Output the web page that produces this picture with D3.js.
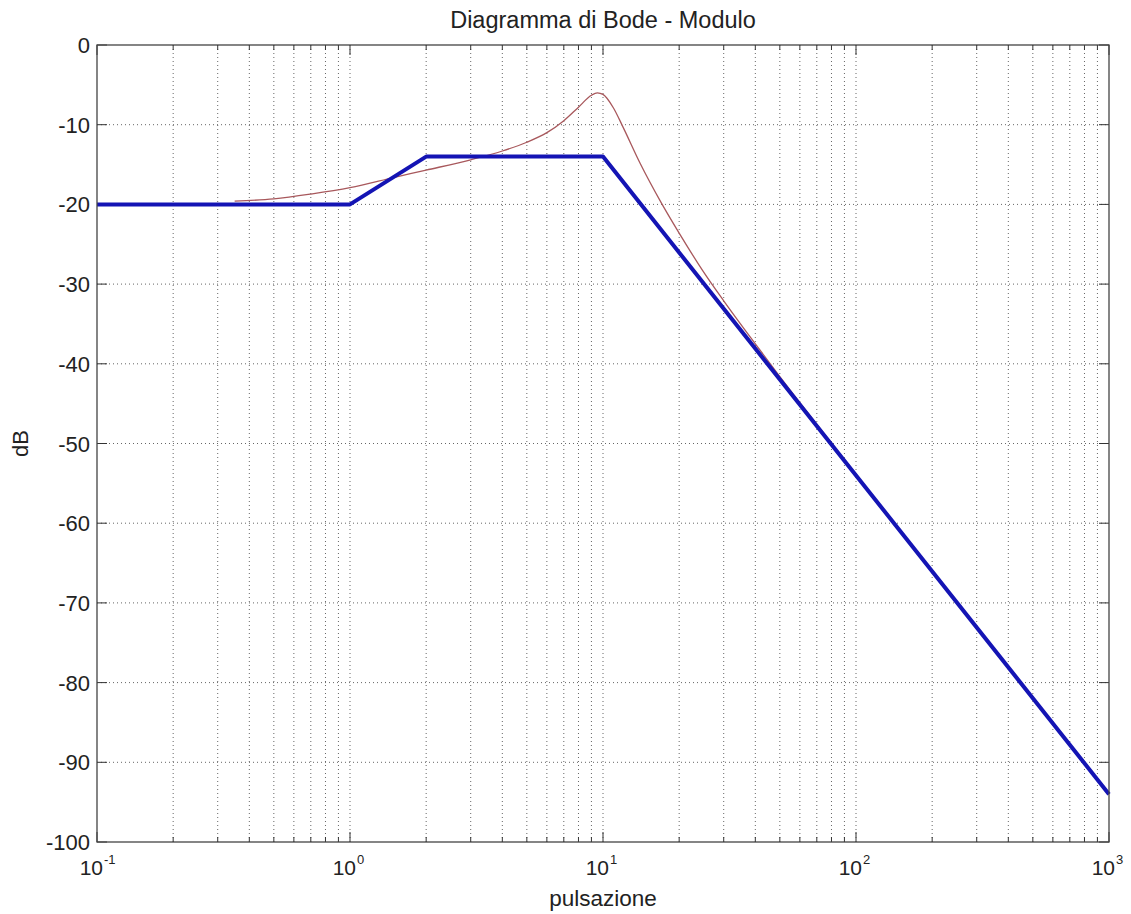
<!DOCTYPE html>
<html>
<head>
<meta charset="utf-8">
<script src="https://cdn.jsdelivr.net/npm/d3@7"></script>
<style>
  body { margin: 0; background: #fff; }
  text { font-family: "Liberation Sans", Arial, sans-serif; fill: #222; }
</style>
</head>
<body>
<svg id="chart" width="1131" height="914"></svg>
<script>
// asymptotic (straight line) diagram
const asymW = [0.1, 1, 2, 10, 1000];
const asymDb = [-20, -20, -14, -14, -94];

const realW = [0.35, 0.5, 0.7, 1, 1.5, 2, 3, 4, 5, 6, 7, 8, 9, 9.5, 10, 11, 12, 14, 17, 20, 25, 30, 40, 50, 70, 100, 200, 500, 1000];
const realDb = [-19.6, -19.3, -18.7, -17.9, -16.6, -15.7, -14.4, -13.3, -12.2, -11.0, -9.5, -7.8, -6.3, -6.0, -6.2, -7.9, -10.3, -14.8, -19.8, -23.6, -28.5, -32.1, -37.5, -41.6, -47.6, -53.9, -66.0, -81.9, -94.0];

const yTicks = [0, -10, -20, -30, -40, -50, -60, -70, -80, -90, -100];
const xDecades = [-1, 0, 1, 2, 3];

const margin = {left: 97, top: 45, right: 22, bottom: 72};
const width = 1131, height = 914;
const svg = d3.select("#chart");

const x = d3.scaleLog().domain([0.1, 1000]).range([margin.left, width - margin.right]);
const y = d3.scaleLinear().domain([-100, 0]).range([height - margin.bottom, margin.top]);

const x0 = x.range()[0], x1 = x.range()[1];
const y0 = y.range()[1], y1 = y.range()[0];

// minor + major positions on the log axis
const allTicks = [];
for (let e = -1; e < 3; e++) {
    for (let m = 1; m < 10; m++) allTicks.push(m * Math.pow(10, e));
}
allTicks.push(1000);

//GRID
svg.append("g").selectAll("line").data(allTicks.filter(d => d > 0.1 && d < 1000))
    .enter().append("line")
    .attr("x1", d => x(d)).attr("x2", d => x(d))
    .attr("y1", y0).attr("y2", y1)
    .attr("stroke", "#666")
    .attr("stroke-width", 1)
    .attr("stroke-dasharray", "1,3");

svg.append("g").selectAll("line").data(yTicks.filter(d => d > -100 && d < 0))
    .enter().append("line")
    .attr("x1", x0).attr("x2", x1)
    .attr("y1", d => y(d)).attr("y2", d => y(d))
    .attr("stroke", "#666")
    .attr("stroke-width", 1)
    .attr("stroke-dasharray", "1,3");

//TICKS (inside the box, all four sides)
const ticksG = svg.append("g").attr("stroke", "#333").attr("stroke-width", 1);
allTicks.forEach(d => {
    const len = xDecades.some(e => Math.abs(Math.pow(10, e) - d) < 1e-9) ? 10 : 5;
    ticksG.append("line").attr("x1", x(d)).attr("x2", x(d)).attr("y1", y1).attr("y2", y1 - len);
    ticksG.append("line").attr("x1", x(d)).attr("x2", x(d)).attr("y1", y0).attr("y2", y0 + len);
});
yTicks.forEach(d => {
    ticksG.append("line").attr("x1", x0).attr("x2", x0 + 10).attr("y1", y(d)).attr("y2", y(d));
    ticksG.append("line").attr("x1", x1).attr("x2", x1 - 10).attr("y1", y(d)).attr("y2", y(d));
});

//LINES
const line = d3.line().x(d => x(d[0])).y(d => y(d[1]));

svg.append("path")
    .datum(realW.map((w, i) => [w, realDb[i]]))
    .attr("d", line.curve(d3.curveMonotoneX))
    .attr("fill", "none")
    .attr("stroke", "#a8585c")
    .attr("stroke-width", 1.3);

svg.append("path")
    .datum(asymW.map((w, i) => [w, asymDb[i]]))
    .attr("d", d3.line().x(d => x(d[0])).y(d => y(d[1])))
    .attr("fill", "none")
    .attr("stroke", "#1414b4")
    .attr("stroke-width", 4)
    .attr("stroke-linejoin", "round");

//BOX
svg.append("rect")
    .attr("x", x0).attr("y", y0)
    .attr("width", x1 - x0).attr("height", y1 - y0)
    .attr("fill", "none")
    .attr("stroke", "#444")
    .attr("stroke-width", 1.3);

//LABELS
svg.append("g").selectAll("text").data(yTicks)
    .enter().append("text")
    .attr("x", x0 - 7)
    .attr("y", d => y(d) + 8)
    .attr("text-anchor", "end")
    .attr("font-size", 22)
    .text(d => d);

const xLab = svg.append("g");
xLab.selectAll("text.base").data(xDecades)
    .enter().append("text")
    .attr("class", "base")
    .attr("x", d => x(Math.pow(10, d)) + 6)
    .attr("y", y1 + 33)
    .attr("text-anchor", "end")
    .attr("font-size", 21)
    .text("10");
xLab.selectAll("text.exp").data(xDecades)
    .enter().append("text")
    .attr("class", "exp")
    .attr("x", d => x(Math.pow(10, d)) + 7)
    .attr("y", y1 + 22)
    .attr("font-size", 13)
    .text(d => d);

svg.append("text")
    .attr("x", (x0 + x1) / 2)
    .attr("y", 906)
    .attr("text-anchor", "middle")
    .attr("font-size", 22.5)
    .text("pulsazione");

svg.append("text")
    .attr("transform", "translate(28," + ((y0 + y1) / 2) + ") rotate(-90)")
    .attr("text-anchor", "middle")
    .attr("font-size", 22)
    .text("dB");

svg.append("text")
    .attr("x", (x0 + x1) / 2)
    .attr("y", 28)
    .attr("text-anchor", "middle")
    .attr("font-size", 23.5)
    .text("Diagramma di Bode - Modulo");
</script>
</body>
</html>
